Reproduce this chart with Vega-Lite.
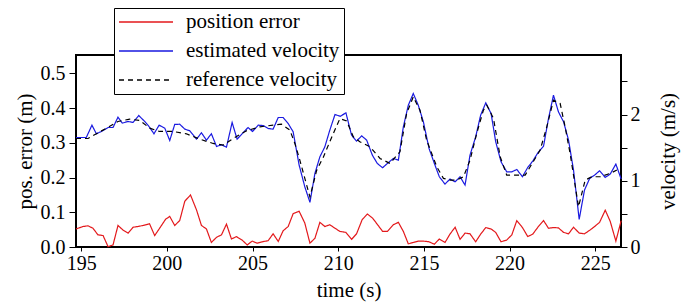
{
  "$schema": "https://vega.github.io/schema/vega-lite/v6.json",
  "width": 545,
  "height": 192,
  "autosize": {"type": "none"},
  "padding": {"left": 76, "top": 55, "right": 68, "bottom": 55},
  "background": "white",
  "config": {
    "view": {"stroke": "black", "strokeWidth": 2}
  },
  "data": {"values": [
    {"time": 194.7, "value": 0.052, "series": "position error"},
    {"time": 195.11, "value": 0.059, "series": "position error"},
    {"time": 195.40, "value": 0.061, "series": "position error"},
    {"time": 195.69, "value": 0.054, "series": "position error"},
    {"time": 195.98, "value": 0.035, "series": "position error"},
    {"time": 196.28, "value": 0.033, "series": "position error"},
    {"time": 196.57, "value": 0.001, "series": "position error"},
    {"time": 196.86, "value": 0.006, "series": "position error"},
    {"time": 197.15, "value": 0.062, "series": "position error"},
    {"time": 197.44, "value": 0.049, "series": "position error"},
    {"time": 197.74, "value": 0.040, "series": "position error"},
    {"time": 198.03, "value": 0.057, "series": "position error"},
    {"time": 198.32, "value": 0.059, "series": "position error"},
    {"time": 198.61, "value": 0.062, "series": "position error"},
    {"time": 198.99, "value": 0.067, "series": "position error"},
    {"time": 199.29, "value": 0.033, "series": "position error"},
    {"time": 199.58, "value": 0.054, "series": "position error"},
    {"time": 199.93, "value": 0.080, "series": "position error"},
    {"time": 200.17, "value": 0.088, "series": "position error"},
    {"time": 200.46, "value": 0.062, "series": "position error"},
    {"time": 200.75, "value": 0.076, "series": "position error"},
    {"time": 201.05, "value": 0.132, "series": "position error"},
    {"time": 201.38, "value": 0.150, "series": "position error"},
    {"time": 201.73, "value": 0.107, "series": "position error"},
    {"time": 202.02, "value": 0.062, "series": "position error"},
    {"time": 202.31, "value": 0.052, "series": "position error"},
    {"time": 202.60, "value": 0.013, "series": "position error"},
    {"time": 202.90, "value": 0.028, "series": "position error"},
    {"time": 203.19, "value": 0.035, "series": "position error"},
    {"time": 203.48, "value": 0.066, "series": "position error"},
    {"time": 203.77, "value": 0.023, "series": "position error"},
    {"time": 204.06, "value": 0.030, "series": "position error"},
    {"time": 204.39, "value": 0.020, "series": "position error"},
    {"time": 204.69, "value": 0.006, "series": "position error"},
    {"time": 204.98, "value": 0.017, "series": "position error"},
    {"time": 205.27, "value": 0.011, "series": "position error"},
    {"time": 205.56, "value": 0.015, "series": "position error"},
    {"time": 205.91, "value": 0.018, "series": "position error"},
    {"time": 206.20, "value": 0.038, "series": "position error"},
    {"time": 206.50, "value": 0.016, "series": "position error"},
    {"time": 206.79, "value": 0.047, "series": "position error"},
    {"time": 207.08, "value": 0.059, "series": "position error"},
    {"time": 207.37, "value": 0.096, "series": "position error"},
    {"time": 207.72, "value": 0.103, "series": "position error"},
    {"time": 208.05, "value": 0.069, "series": "position error"},
    {"time": 208.35, "value": 0.011, "series": "position error"},
    {"time": 208.64, "value": 0.025, "series": "position error"},
    {"time": 208.93, "value": 0.071, "series": "position error"},
    {"time": 209.22, "value": 0.059, "series": "position error"},
    {"time": 209.51, "value": 0.064, "series": "position error"},
    {"time": 209.81, "value": 0.054, "series": "position error"},
    {"time": 210.10, "value": 0.045, "series": "position error"},
    {"time": 210.45, "value": 0.042, "series": "position error"},
    {"time": 210.78, "value": 0.022, "series": "position error"},
    {"time": 211.07, "value": 0.038, "series": "position error"},
    {"time": 211.40, "value": 0.079, "series": "position error"},
    {"time": 211.70, "value": 0.095, "series": "position error"},
    {"time": 212.01, "value": 0.083, "series": "position error"},
    {"time": 212.30, "value": 0.064, "series": "position error"},
    {"time": 212.59, "value": 0.045, "series": "position error"},
    {"time": 212.87, "value": 0.045, "series": "position error"},
    {"time": 213.21, "value": 0.064, "series": "position error"},
    {"time": 213.51, "value": 0.071, "series": "position error"},
    {"time": 213.80, "value": 0.045, "series": "position error"},
    {"time": 214.09, "value": 0.009, "series": "position error"},
    {"time": 214.38, "value": 0.013, "series": "position error"},
    {"time": 214.67, "value": 0.017, "series": "position error"},
    {"time": 214.97, "value": 0.017, "series": "position error"},
    {"time": 215.30, "value": 0.015, "series": "position error"},
    {"time": 215.61, "value": 0.008, "series": "position error"},
    {"time": 215.90, "value": 0.023, "series": "position error"},
    {"time": 216.23, "value": 0.013, "series": "position error"},
    {"time": 216.52, "value": 0.037, "series": "position error"},
    {"time": 216.82, "value": 0.057, "series": "position error"},
    {"time": 217.11, "value": 0.022, "series": "position error"},
    {"time": 217.40, "value": 0.040, "series": "position error"},
    {"time": 217.69, "value": 0.038, "series": "position error"},
    {"time": 218.02, "value": 0.015, "series": "position error"},
    {"time": 218.31, "value": 0.037, "series": "position error"},
    {"time": 218.61, "value": 0.056, "series": "position error"},
    {"time": 218.92, "value": 0.052, "series": "position error"},
    {"time": 219.19, "value": 0.042, "series": "position error"},
    {"time": 219.50, "value": 0.015, "series": "position error"},
    {"time": 219.83, "value": 0.020, "series": "position error"},
    {"time": 220.13, "value": 0.035, "series": "position error"},
    {"time": 220.42, "value": 0.076, "series": "position error"},
    {"time": 220.75, "value": 0.056, "series": "position error"},
    {"time": 221.06, "value": 0.030, "series": "position error"},
    {"time": 221.35, "value": 0.037, "series": "position error"},
    {"time": 221.65, "value": 0.057, "series": "position error"},
    {"time": 221.98, "value": 0.076, "series": "position error"},
    {"time": 222.27, "value": 0.054, "series": "position error"},
    {"time": 222.56, "value": 0.056, "series": "position error"},
    {"time": 222.85, "value": 0.055, "series": "position error"},
    {"time": 223.15, "value": 0.042, "series": "position error"},
    {"time": 223.44, "value": 0.038, "series": "position error"},
    {"time": 223.73, "value": 0.057, "series": "position error"},
    {"time": 224.06, "value": 0.040, "series": "position error"},
    {"time": 224.37, "value": 0.038, "series": "position error"},
    {"time": 224.67, "value": 0.048, "series": "position error"},
    {"time": 224.96, "value": 0.059, "series": "position error"},
    {"time": 225.25, "value": 0.071, "series": "position error"},
    {"time": 225.58, "value": 0.106, "series": "position error"},
    {"time": 225.87, "value": 0.074, "series": "position error"},
    {"time": 226.20, "value": 0.017, "series": "position error"},
    {"time": 226.51, "value": 0.076, "series": "position error"},

    {"time": 194.7, "value": 1.654, "series": "estimated velocity"},
    {"time": 195.30, "value": 1.654, "series": "estimated velocity"},
    {"time": 195.63, "value": 1.840, "series": "estimated velocity"},
    {"time": 195.89, "value": 1.710, "series": "estimated velocity"},
    {"time": 196.18, "value": 1.745, "series": "estimated velocity"},
    {"time": 196.57, "value": 1.805, "series": "estimated velocity"},
    {"time": 196.86, "value": 1.805, "series": "estimated velocity"},
    {"time": 197.15, "value": 1.961, "series": "estimated velocity"},
    {"time": 197.40, "value": 1.871, "series": "estimated velocity"},
    {"time": 197.74, "value": 1.896, "series": "estimated velocity"},
    {"time": 198.03, "value": 1.881, "series": "estimated velocity"},
    {"time": 198.36, "value": 1.986, "series": "estimated velocity"},
    {"time": 198.71, "value": 1.896, "series": "estimated velocity"},
    {"time": 198.96, "value": 1.820, "series": "estimated velocity"},
    {"time": 199.25, "value": 1.710, "series": "estimated velocity"},
    {"time": 199.55, "value": 1.840, "series": "estimated velocity"},
    {"time": 199.88, "value": 1.795, "series": "estimated velocity"},
    {"time": 200.17, "value": 1.609, "series": "estimated velocity"},
    {"time": 200.46, "value": 1.851, "series": "estimated velocity"},
    {"time": 200.75, "value": 1.855, "series": "estimated velocity"},
    {"time": 201.05, "value": 1.780, "series": "estimated velocity"},
    {"time": 201.34, "value": 1.755, "series": "estimated velocity"},
    {"time": 201.73, "value": 1.629, "series": "estimated velocity"},
    {"time": 202.02, "value": 1.725, "series": "estimated velocity"},
    {"time": 202.31, "value": 1.614, "series": "estimated velocity"},
    {"time": 202.60, "value": 1.710, "series": "estimated velocity"},
    {"time": 202.90, "value": 1.519, "series": "estimated velocity"},
    {"time": 203.19, "value": 1.544, "series": "estimated velocity"},
    {"time": 203.48, "value": 1.508, "series": "estimated velocity"},
    {"time": 203.81, "value": 1.880, "series": "estimated velocity"},
    {"time": 204.10, "value": 1.629, "series": "estimated velocity"},
    {"time": 204.41, "value": 1.715, "series": "estimated velocity"},
    {"time": 204.74, "value": 1.805, "series": "estimated velocity"},
    {"time": 205.00, "value": 1.745, "series": "estimated velocity"},
    {"time": 205.33, "value": 1.840, "series": "estimated velocity"},
    {"time": 205.62, "value": 1.835, "series": "estimated velocity"},
    {"time": 205.91, "value": 1.790, "series": "estimated velocity"},
    {"time": 206.20, "value": 1.780, "series": "estimated velocity"},
    {"time": 206.50, "value": 1.956, "series": "estimated velocity"},
    {"time": 206.79, "value": 1.956, "series": "estimated velocity"},
    {"time": 207.08, "value": 1.865, "series": "estimated velocity"},
    {"time": 207.37, "value": 1.740, "series": "estimated velocity"},
    {"time": 207.72, "value": 1.237, "series": "estimated velocity"},
    {"time": 208.05, "value": 0.910, "series": "estimated velocity"},
    {"time": 208.35, "value": 0.674, "series": "estimated velocity"},
    {"time": 208.64, "value": 1.111, "series": "estimated velocity"},
    {"time": 208.93, "value": 1.362, "series": "estimated velocity"},
    {"time": 209.22, "value": 1.513, "series": "estimated velocity"},
    {"time": 209.51, "value": 1.765, "series": "estimated velocity"},
    {"time": 209.81, "value": 2.000, "series": "estimated velocity"},
    {"time": 210.12, "value": 1.975, "series": "estimated velocity"},
    {"time": 210.45, "value": 2.026, "series": "estimated velocity"},
    {"time": 210.78, "value": 1.689, "series": "estimated velocity"},
    {"time": 211.07, "value": 1.599, "series": "estimated velocity"},
    {"time": 211.37, "value": 1.679, "series": "estimated velocity"},
    {"time": 211.66, "value": 1.614, "series": "estimated velocity"},
    {"time": 211.99, "value": 1.388, "series": "estimated velocity"},
    {"time": 212.28, "value": 1.262, "series": "estimated velocity"},
    {"time": 212.59, "value": 1.197, "series": "estimated velocity"},
    {"time": 212.87, "value": 1.262, "series": "estimated velocity"},
    {"time": 213.21, "value": 1.337, "series": "estimated velocity"},
    {"time": 213.51, "value": 1.312, "series": "estimated velocity"},
    {"time": 213.80, "value": 1.815, "series": "estimated velocity"},
    {"time": 214.09, "value": 2.142, "series": "estimated velocity"},
    {"time": 214.38, "value": 2.318, "series": "estimated velocity"},
    {"time": 214.67, "value": 2.142, "series": "estimated velocity"},
    {"time": 214.97, "value": 1.890, "series": "estimated velocity"},
    {"time": 215.30, "value": 1.488, "series": "estimated velocity"},
    {"time": 215.61, "value": 1.262, "series": "estimated velocity"},
    {"time": 215.90, "value": 1.061, "series": "estimated velocity"},
    {"time": 216.23, "value": 0.950, "series": "estimated velocity"},
    {"time": 216.52, "value": 1.026, "series": "estimated velocity"},
    {"time": 216.82, "value": 0.985, "series": "estimated velocity"},
    {"time": 217.11, "value": 1.061, "series": "estimated velocity"},
    {"time": 217.40, "value": 0.935, "series": "estimated velocity"},
    {"time": 217.69, "value": 1.388, "series": "estimated velocity"},
    {"time": 218.02, "value": 1.664, "series": "estimated velocity"},
    {"time": 218.31, "value": 1.991, "series": "estimated velocity"},
    {"time": 218.61, "value": 2.177, "series": "estimated velocity"},
    {"time": 218.92, "value": 2.016, "series": "estimated velocity"},
    {"time": 219.19, "value": 1.589, "series": "estimated velocity"},
    {"time": 219.50, "value": 1.287, "series": "estimated velocity"},
    {"time": 219.83, "value": 1.136, "series": "estimated velocity"},
    {"time": 220.13, "value": 1.136, "series": "estimated velocity"},
    {"time": 220.42, "value": 1.171, "series": "estimated velocity"},
    {"time": 220.75, "value": 1.061, "series": "estimated velocity"},
    {"time": 221.06, "value": 1.202, "series": "estimated velocity"},
    {"time": 221.35, "value": 1.297, "series": "estimated velocity"},
    {"time": 221.65, "value": 1.423, "series": "estimated velocity"},
    {"time": 221.98, "value": 1.523, "series": "estimated velocity"},
    {"time": 222.27, "value": 1.941, "series": "estimated velocity"},
    {"time": 222.56, "value": 2.293, "series": "estimated velocity"},
    {"time": 222.85, "value": 2.041, "series": "estimated velocity"},
    {"time": 223.15, "value": 1.890, "series": "estimated velocity"},
    {"time": 223.44, "value": 1.614, "series": "estimated velocity"},
    {"time": 223.73, "value": 1.161, "series": "estimated velocity"},
    {"time": 224.06, "value": 0.417, "series": "estimated velocity"},
    {"time": 224.37, "value": 0.860, "series": "estimated velocity"},
    {"time": 224.67, "value": 1.036, "series": "estimated velocity"},
    {"time": 224.96, "value": 1.086, "series": "estimated velocity"},
    {"time": 225.25, "value": 1.151, "series": "estimated velocity"},
    {"time": 225.58, "value": 1.051, "series": "estimated velocity"},
    {"time": 225.87, "value": 1.101, "series": "estimated velocity"},
    {"time": 226.20, "value": 1.252, "series": "estimated velocity"},
    {"time": 226.51, "value": 1.026, "series": "estimated velocity"},

    {"time": 194.7, "value": 1.639, "series": "reference velocity"},
    {"time": 195.40, "value": 1.639, "series": "reference velocity"},
    {"time": 195.89, "value": 1.710, "series": "reference velocity"},
    {"time": 196.47, "value": 1.795, "series": "reference velocity"},
    {"time": 197.15, "value": 1.896, "series": "reference velocity"},
    {"time": 197.83, "value": 1.931, "series": "reference velocity"},
    {"time": 198.42, "value": 1.911, "series": "reference velocity"},
    {"time": 199.00, "value": 1.795, "series": "reference velocity"},
    {"time": 199.58, "value": 1.745, "series": "reference velocity"},
    {"time": 200.36, "value": 1.745, "series": "reference velocity"},
    {"time": 201.14, "value": 1.710, "series": "reference velocity"},
    {"time": 201.92, "value": 1.629, "series": "reference velocity"},
    {"time": 202.70, "value": 1.564, "series": "reference velocity"},
    {"time": 203.28, "value": 1.539, "series": "reference velocity"},
    {"time": 203.87, "value": 1.639, "series": "reference velocity"},
    {"time": 204.65, "value": 1.755, "series": "reference velocity"},
    {"time": 205.43, "value": 1.815, "series": "reference velocity"},
    {"time": 206.20, "value": 1.840, "series": "reference velocity"},
    {"time": 206.69, "value": 1.855, "series": "reference velocity"},
    {"time": 207.18, "value": 1.765, "series": "reference velocity"},
    {"time": 207.47, "value": 1.564, "series": "reference velocity"},
    {"time": 207.76, "value": 1.312, "series": "reference velocity"},
    {"time": 208.35, "value": 0.755, "series": "reference velocity"},
    {"time": 208.74, "value": 1.156, "series": "reference velocity"},
    {"time": 209.13, "value": 1.357, "series": "reference velocity"},
    {"time": 209.62, "value": 1.659, "series": "reference velocity"},
    {"time": 210.10, "value": 1.940, "series": "reference velocity"},
    {"time": 210.49, "value": 1.905, "series": "reference velocity"},
    {"time": 210.88, "value": 1.664, "series": "reference velocity"},
    {"time": 211.26, "value": 1.589, "series": "reference velocity"},
    {"time": 211.85, "value": 1.514, "series": "reference velocity"},
    {"time": 212.44, "value": 1.337, "series": "reference velocity"},
    {"time": 213.02, "value": 1.262, "series": "reference velocity"},
    {"time": 213.60, "value": 1.438, "series": "reference velocity"},
    {"time": 213.99, "value": 2.016, "series": "reference velocity"},
    {"time": 214.38, "value": 2.268, "series": "reference velocity"},
    {"time": 214.77, "value": 2.066, "series": "reference velocity"},
    {"time": 215.16, "value": 1.614, "series": "reference velocity"},
    {"time": 215.75, "value": 1.212, "series": "reference velocity"},
    {"time": 216.14, "value": 1.036, "series": "reference velocity"},
    {"time": 216.53, "value": 1.011, "series": "reference velocity"},
    {"time": 216.92, "value": 1.011, "series": "reference velocity"},
    {"time": 217.31, "value": 1.061, "series": "reference velocity"},
    {"time": 217.69, "value": 1.312, "series": "reference velocity"},
    {"time": 218.08, "value": 1.714, "series": "reference velocity"},
    {"time": 218.47, "value": 2.066, "series": "reference velocity"},
    {"time": 218.67, "value": 2.142, "series": "reference velocity"},
    {"time": 219.06, "value": 1.941, "series": "reference velocity"},
    {"time": 219.45, "value": 1.363, "series": "reference velocity"},
    {"time": 219.83, "value": 1.086, "series": "reference velocity"},
    {"time": 220.42, "value": 1.086, "series": "reference velocity"},
    {"time": 220.91, "value": 1.086, "series": "reference velocity"},
    {"time": 221.20, "value": 1.212, "series": "reference velocity"},
    {"time": 221.78, "value": 1.463, "series": "reference velocity"},
    {"time": 222.17, "value": 1.815, "series": "reference velocity"},
    {"time": 222.56, "value": 2.218, "series": "reference velocity"},
    {"time": 222.95, "value": 2.167, "series": "reference velocity"},
    {"time": 223.24, "value": 1.815, "series": "reference velocity"},
    {"time": 223.53, "value": 1.413, "series": "reference velocity"},
    {"time": 224.02, "value": 0.608, "series": "reference velocity"},
    {"time": 224.41, "value": 1.011, "series": "reference velocity"},
    {"time": 224.80, "value": 1.061, "series": "reference velocity"},
    {"time": 225.28, "value": 1.061, "series": "reference velocity"},
    {"time": 225.87, "value": 1.111, "series": "reference velocity"},
    {"time": 226.26, "value": 1.162, "series": "reference velocity"}
  ]},
  "encoding": {
    "x": {
      "field": "time", "type": "quantitative",
      "scale": {"domain": [194.7, 226.5], "nice": false, "zero": false},
      "axis": {"values": [195, 200, 205, 210, 215, 220, 225], "format": "d", "title": "time (s)", "grid": false, "domain": false,
        "tickSize": 4, "tickColor": "black", "labelPadding": 2, "titlePadding": 6,
        "labelFont": "Liberation Serif", "labelFontSize": 20, "labelColor": "black",
        "titleFont": "Liberation Serif", "titleFontSize": 21, "titleFontWeight": "normal", "titleColor": "black"}
    },
    "color": {
      "field": "series", "type": "nominal",
      "scale": {"domain": ["position error", "estimated velocity", "reference velocity"], "range": ["#e3191c", "#1a1ae0", "#000000"]},
      "legend": {
        "orient": "none", "legendX": 38, "legendY": -47, "title": null,
        "symbolType": "stroke", "symbolSize": 2916, "symbolStrokeWidth": 1.5,
        "labelFont": "Liberation Serif", "labelFontSize": 21, "labelColor": "black", "labelOffset": 12, "labelLimit": 300,
        "labelExpr": "datum.label + '\u00a0\u00a0\u00a0\u00a0'",
        "fillColor": "white", "strokeColor": "black", "padding": 4, "clipHeight": 20, "rowPadding": 8, "direction": "vertical"
      }
    },
    "strokeDash": {
      "field": "series", "type": "nominal",
      "scale": {"domain": ["position error", "estimated velocity", "reference velocity"], "range": [[1, 0], [1, 0], [5, 4]]},
      "legend": {
        "orient": "none", "legendX": 38, "legendY": -47, "title": null,
        "symbolType": "stroke", "symbolSize": 2916, "symbolStrokeWidth": 1.5,
        "labelFont": "Liberation Serif", "labelFontSize": 21, "labelColor": "black", "labelOffset": 12, "labelLimit": 300,
        "labelExpr": "datum.label + '\u00a0\u00a0\u00a0\u00a0'",
        "fillColor": "white", "strokeColor": "black", "padding": 4, "clipHeight": 20, "rowPadding": 8, "direction": "vertical"
      }
    }
  },
  "layer": [
    {
      "transform": [{"filter": "datum.series === 'position error'"}],
      "mark": {"type": "line", "strokeWidth": 1.2},
      "encoding": {
        "y": {
          "field": "value", "type": "quantitative",
          "scale": {"domain": [0, 0.553], "nice": false},
          "axis": {"orient": "left", "values": [0, 0.1, 0.2, 0.3, 0.4, 0.5], "format": ".1f", "title": "pos. error (m)", "grid": false, "domain": false,
            "tickSize": 7, "tickColor": "black", "labelPadding": 4, "titlePadding": 5,
            "labelFont": "Liberation Serif", "labelFontSize": 20, "labelColor": "black",
            "titleFont": "Liberation Serif", "titleFontSize": 21, "titleFontWeight": "normal", "titleColor": "black"}
        }
      }
    },
    {
      "transform": [{"filter": "datum.series !== 'position error'"}],
      "mark": {"type": "line", "strokeWidth": 1.2},
      "encoding": {
        "y": {
          "field": "value", "type": "quantitative",
          "scale": {"domain": [0, 2.9], "nice": false},
          "axis": {"orient": "right", "values": [0, 0.5, 1, 1.5, 2, 2.5], "labelExpr": "datum.value % 1 === 0 ? format(datum.value, 'd') : ''", "title": "velocity (m/s)", "grid": false, "domain": false,
            "titleAngle": -90, "titleBaseline": "top", "tickSize": 6, "tickColor": "black", "labelPadding": 3, "titlePadding": 17,
            "labelFont": "Liberation Serif", "labelFontSize": 20, "labelColor": "black",
            "titleFont": "Liberation Serif", "titleFontSize": 21, "titleFontWeight": "normal", "titleColor": "black"}
        }
      }
    }
  ],
  "resolve": {"scale": {"y": "independent"}, "axis": {"y": "independent"}}
}
